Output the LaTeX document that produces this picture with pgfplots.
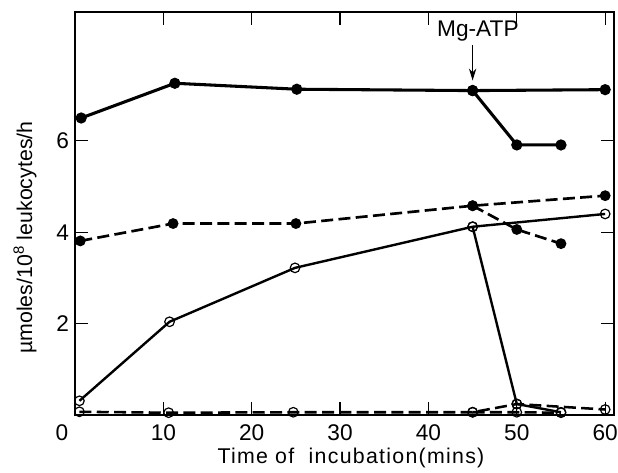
\documentclass[border=0pt]{standalone}
\usepackage{fontspec}
\setmainfont{Liberation Sans}
\usepackage{pgfplots}
\pgfplotsset{compat=1.18}
\usetikzlibrary{arrows.meta}

\newcommand{\lblfont}{\fontsize{16}{19}\selectfont}
\newcommand{\tckfont}{\fontsize{17}{20}\selectfont}

\begin{document}
\begin{tikzpicture}
\begin{axis}[
  scale only axis, width=404.25pt, height=302.25pt,
  xmin=0, xmax=61, ymin=0, ymax=8.82,
  clip=false,
  axis line style={line width=1.4pt},
  xtick={10,20,...,60}, ytick={2,4,6},
  extra x ticks={0},
  extra x tick style={major tick length=0pt, xticklabel style={xshift=-9.75pt}},
  tick align=inside, major tick length=10pt,
  tick style={line width=0.9pt, black},
  /pgf/number format/assume math mode=true,
  ticklabel style={font=\tckfont},
  xticklabel style={yshift=-4pt},
  yticklabel style={xshift=-1pt},
  solidA/.style={black, line width=2.3pt, mark=*, mark size=3pt},
  dashB/.style={black, line width=2pt, dash pattern=on 9pt off 4pt, mark=*, mark size=3pt, mark options={solid}},
  solidC/.style={black, line width=1.8pt, mark=o, mark size=3.6pt, mark options={solid, fill=white, line width=0.9pt}},
  dashD/.style={black, line width=1.9pt, dash pattern=on 9pt off 4pt, mark=o, mark size=3.6pt, mark options={solid, fill=white, line width=0.9pt}},
]
% filled circles, solid
\addplot[solidA] coordinates {(0.7,6.5) (11.3,7.26) (25.1,7.13) (45,7.1) (60,7.12)};
\addplot[solidA] coordinates {(45,7.1) (50,5.91) (55,5.91)};
% filled circles, dashed
\addplot[dashB] coordinates {(0.6,3.81) (11.1,4.19) (25,4.19) (45,4.58) (60,4.8)};
\addplot[dashB] coordinates {(45,4.58) (50,4.06) (55,3.75)};
% open circles, solid
\addplot[solidC] coordinates {(0.5,0.31) (10.7,2.04) (24.9,3.22) (45,4.12) (60,4.4)};
\addplot[solidC] coordinates {(45,4.12) (50,0.24) (55,0.06)};
% open circles, dashed
\addplot[dashD] coordinates {(0.5,0.07) (10.6,0.05) (24.7,0.06) (45,0.06) (50,0.24) (60,0.12)};
\addplot[dashD] coordinates {(45,0.06) (50,0.06) (55,0.05)};

\node[font=\tckfont] at (axis cs:45.6,8.4) {Mg-ATP};
\draw[line width=1pt, -{Stealth[length=9pt,width=5.5pt]}] (axis cs:45,8.1) -- (axis cs:45,7.32);

\node[font=\lblfont\addfontfeatures{LetterSpace=6}] at ([yshift=-32pt]rel axis cs:0.512,0) {Time of\ \ incubation(mins)};
\node[font=\lblfont, rotate=90] at ([xshift=-37.5pt]rel axis cs:0,0.44) {µmoles/10\textsuperscript{8} leukocytes/h};
\end{axis}
\pgfresetboundingbox
\path (-56.25pt,-43.5pt) rectangle (407.25pt,311.25pt);
\end{tikzpicture}
\end{document}
